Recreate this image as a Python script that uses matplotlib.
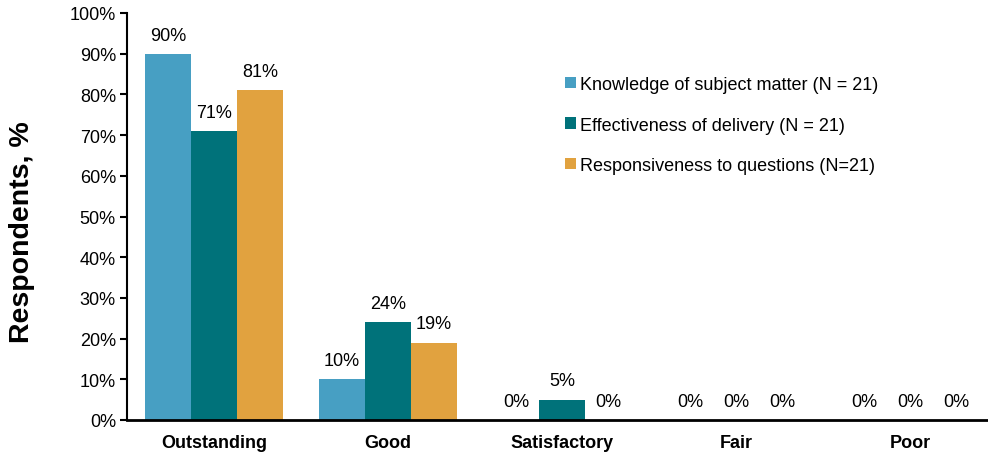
import numpy as np
import matplotlib.pyplot as plt

plt.rcParams['font.family'] = ['Liberation Sans', 'DejaVu Sans']

categories = ['Outstanding', 'Good', 'Satisfactory', 'Fair', 'Poor']
knowledge = [90, 10, 0, 0, 0]
delivery = [71, 24, 5, 0, 0]
responsiveness = [81, 19, 0, 0, 0]
series_names = ['Knowledge of subject matter (N = 21)',
                'Effectiveness of delivery (N = 21)',
                'Responsiveness to questions (N=21)']
colors = ['#479FC3', '#00727A', '#E1A23F']

fig = plt.figure(figsize=(9.88, 4.56), dpi=100)
ax = fig.add_axes([127 / 988, 35 / 456, 861 / 988, 407 / 456])

x = np.arange(len(categories))
w = 0.265
for i, (vals, name, c) in enumerate(zip([knowledge, delivery, responsiveness], series_names, colors)):
    pos = x + (i - 1) * w
    ax.bar(pos, vals, width=w, color=c, label=name)
    for px, v in zip(pos, vals):
        ax.text(px, v + 2.5, f'{v}%', ha='center', va='bottom', fontsize=13)

ax.set_xlim(-0.5, -0.5 + 861 / 174)
ax.set_ylim(0, 100)
ax.set_yticks(range(0, 101, 10))
ax.set_yticklabels([f'{t}%' for t in range(0, 101, 10)], fontsize=13)
ax.set_xticks(x)
ax.set_xticklabels(categories, fontsize=13, fontweight='bold')
ax.tick_params(axis='x', length=0, pad=10)
ax.tick_params(axis='y', direction='out', length=5, width=1.5, pad=3)
ax.set_ylabel('Respondents, %', fontsize=20.5, fontweight='bold')
ax.yaxis.set_label_coords(-0.107, 0.465)

for s in ['top', 'right']:
    ax.spines[s].set_visible(False)
ax.spines['left'].set_linewidth(1.5)
ax.spines['bottom'].set_linewidth(2)

leg = ax.legend(loc='upper left', bbox_to_anchor=(0.49, 0.885), frameon=False,
                fontsize=13, handlelength=0.6, handleheight=0.6,
                handletextpad=0.25, labelspacing=1.3)

fig.savefig('out.png', dpi=100)
